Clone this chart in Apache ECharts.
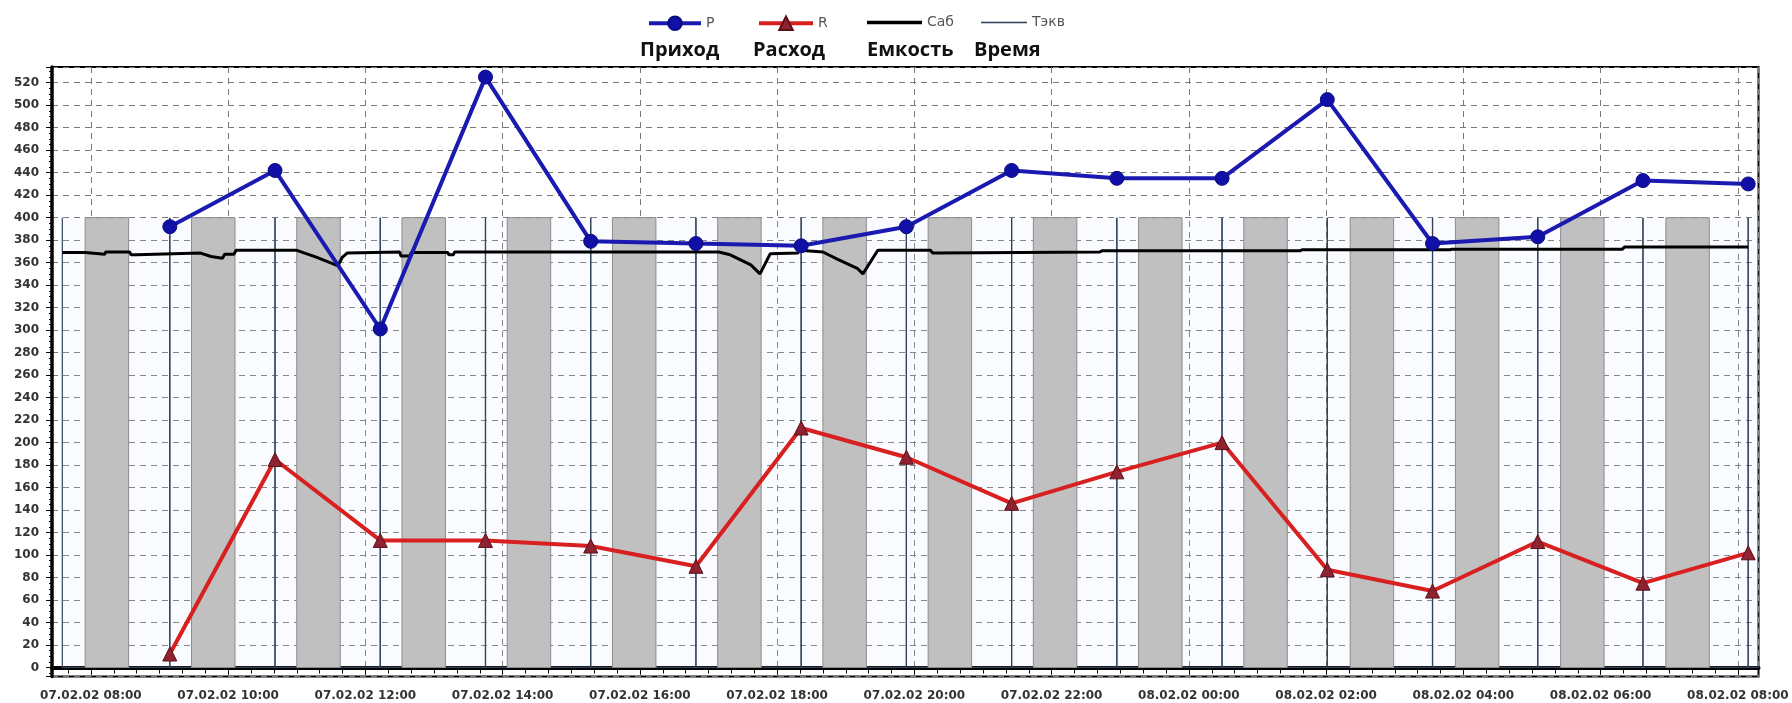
<!DOCTYPE html>
<html>
<head>
<meta charset="utf-8">
<title>Приход / Расход</title>
<script src="https://cdn.jsdelivr.net/npm/echarts@6/dist/echarts.min.js"></script>
<style>
  html, body { margin: 0; padding: 0; background: #fff; }
  #chart { width: 1792px; height: 703px; }
</style>
</head>
<body>
<div id="chart"></div>
<script>
// моменты замеров: "день чч:мм" (07.02.02 / 08.02.02)
const pointTimes = ['07 09:09', '07 10:41', '07 12:13', '07 13:45', '07 15:17', '07 16:49', '07 18:21', '07 19:53',
  '07 21:25', '07 22:57', '08 00:29', '08 02:01', '08 03:33', '08 05:05', '08 06:37', '08 08:09'];
// P - приход, R - расход
const pValues = [392, 442, 301, 525, 379, 377, 375, 392, 442, 435, 435, 505, 377, 383, 433, 430];
const rValues = [12, 185, 113, 113, 108, 90, 213, 187, 146, 174, 200, 87, 68, 112, 75, 102];

// Тэкв - границы интервалов
const tekvTimes = ['07 07:35', '07 09:09', '07 10:41', '07 12:13', '07 13:45', '07 15:17', '07 16:49', '07 18:21',
  '07 19:53', '07 21:25', '07 22:57', '08 00:29', '08 02:01', '08 03:33', '08 05:05', '08 06:37', '08 08:09', '08 09:41'];
const tekvLevel = 400;

// серые столбцы (начало / конец)
const greyStart = ['07 07:55', '07 09:28', '07 11:00', '07 12:32', '07 14:04', '07 15:36', '07 17:08', '07 18:40',
  '07 20:12', '07 21:44', '07 23:16', '08 00:48', '08 02:21', '08 03:53', '08 05:25', '08 06:57'];
const greyEnd = ['07 08:33', '07 10:06', '07 11:38', '07 13:10', '07 14:42', '07 16:14', '07 17:46', '07 19:18',
  '07 20:50', '07 22:22', '07 23:54', '08 01:26', '08 02:59', '08 04:31', '08 06:03', '08 07:35'];
const greyLevel = 400;

// Саб - емкость
const sabTimes = ['07 07:35', '07 07:55', '07 07:56', '07 08:12', '07 08:13', '07 08:34', '07 08:35', '07 08:40',
  '07 08:41', '07 09:36', '07 09:45', '07 09:55', '07 09:57', '07 10:05', '07 10:07', '07 11:00', '07 11:17',
  '07 11:34', '07 11:36', '07 11:40', '07 11:44', '07 12:30', '07 12:31', '07 12:39', '07 12:40', '07 13:12',
  '07 13:13', '07 13:17', '07 13:18', '07 17:09', '07 17:19', '07 17:37', '07 17:45', '07 17:54', '07 18:18',
  '07 18:20', '07 18:40', '07 18:53', '07 19:10', '07 19:15', '07 19:28', '07 20:14', '07 20:16', '07 20:20',
  '07 20:21', '07 22:42', '07 22:44', '08 01:37', '08 01:39', '08 03:48', '08 03:50', '08 06:19', '08 06:21', '08 08:09'];
const sabValues = [369, 369, 367.5, 367.5, 369.5, 369.5, 367, 367,
  368.5, 368.5, 365.5, 364, 367.5, 367.5, 371, 371, 365,
  358, 357.5, 365, 368.5, 369.5, 366, 366, 369, 369,
  367, 367, 369.5, 369.5, 367, 358, 350, 368, 368.5,
  371, 369.5, 363, 355, 350, 371, 371, 368.5, 368.5,
  369.5, 369.5, 370.5, 370.5, 371.5, 371.5, 372, 372, 374, 374];

const axisStart = '07 07:26';
const axisEnd = '08 08:18';

// минуты от 07.02.02 00:00
function toMin(s) {
  const day = +s.slice(0, 2);
  return (day - 7) * 1440 + (+s.slice(3, 5)) * 60 + (+s.slice(6, 8));
}
function pad(n) {
  return (n < 10 ? '0' : '') + n;
}
function fmtTick(v) {
  if (v % 120 !== 0) return '';
  const d = Math.floor(v / 1440);
  const rest = v - d * 1440;
  return pad(7 + d) + '.02.02 ' + pad(Math.floor(rest / 60)) + ':' + pad(rest % 60);
}

const pData = pointTimes.map((t, i) => [toMin(t), pValues[i]]);
const rData = pointTimes.map((t, i) => [toMin(t), rValues[i]]);
const sabData = sabTimes.map((t, i) => [toMin(t), sabValues[i]]);
const tekvData = [];
for (let i = 0; i < tekvTimes.length - 1; i++) {
  tekvData.push([toMin(tekvTimes[i]), toMin(tekvTimes[i + 1]), tekvLevel]);
}
const greyData = greyStart.map((t, i) => [toMin(t), toMin(greyEnd[i]), greyLevel]);

const legendText = { fontSize: 14, color: '#555', fontFamily: 'DejaVu Sans' };
const axisFont = { fontSize: 12, fontWeight: 'bold', color: '#333', fontFamily: 'DejaVu Sans' };
const dashed = { color: '#7a7a7a', width: 1, type: [6, 5] };
const capFont = 'bold 20px "Open Sans"';

let myChart = echarts.init(document.getElementById('chart'));
myChart.setOption({
  animation: false,
  backgroundColor: '#fff',
  legend: [
    { data: ['P'], left: 647, top: 15.5, padding: 0, itemWidth: 52, itemHeight: 17, lineStyle: { width: 4 }, textStyle: legendText },
    { data: ['R'], left: 757, top: 15.5, padding: 0, itemWidth: 54, itemHeight: 17, lineStyle: { width: 4 }, textStyle: legendText },
    { data: [{ name: 'Саб', icon: 'rect' }], left: 867, top: 15.5, padding: 0, itemWidth: 55, itemHeight: 3.5, textStyle: legendText },
    { data: [{ name: 'Тэкв', icon: 'rect' }], left: 981, top: 15.5, padding: 0, itemWidth: 46, itemHeight: 1.3, textStyle: legendText }
  ],
  graphic: [
    { type: 'text', x: 640, y: 50, style: { text: 'Приход', font: capFont, fill: '#111', verticalAlign: 'middle' } },
    { type: 'text', x: 753, y: 50, style: { text: 'Расход', font: capFont, fill: '#111', verticalAlign: 'middle' } },
    { type: 'text', x: 867, y: 50, style: { text: 'Емкость', font: capFont, fill: '#111', verticalAlign: 'middle' } },
    { type: 'text', x: 974, y: 50, style: { text: 'Время', font: capFont, fill: '#111', verticalAlign: 'middle' } }
  ],
  grid: {
    left: 52,
    right: 33.5,
    top: 67,
    bottom: 26.5,
    show: true,
    borderColor: '#000',
    borderWidth: 2,
    backgroundColor: '#fff'
  },
  xAxis: {
    type: 'value',
    min: toMin(axisStart),
    max: toMin(axisEnd),
    splitNumber: 12,
    minInterval: 120,
    maxInterval: 120,
    axisLine: { show: true, lineStyle: { color: '#000', width: 4 } },
    axisTick: { show: true, length: 7, lineStyle: { color: '#000', width: 1 } },
    minorTick: { show: true, splitNumber: 6, length: 6, lineStyle: { color: '#000', width: 1 } },
    axisLabel: {
      ...axisFont,
      margin: 13,
      showMinLabel: false,
      showMaxLabel: false,
      formatter: fmtTick
    },
    splitLine: { show: true, lineStyle: dashed }
  },
  yAxis: {
    type: 'value',
    min: -8,
    max: 534,
    splitNumber: 27,
    minInterval: 20,
    maxInterval: 20,
    axisLine: { show: true, lineStyle: { color: '#000', width: 3.5 } },
    axisTick: { show: true, length: 6, lineStyle: { color: '#000', width: 1 } },
    minorTick: { show: true, splitNumber: 4, length: 3, lineStyle: { color: '#000', width: 1 } },
    axisLabel: {
      ...axisFont,
      margin: 13,
      showMinLabel: false,
      showMaxLabel: false,
      formatter: function (v) {
        return v % 20 === 0 && v >= 0 ? String(v) : '';
      }
    },
    splitLine: { show: true, lineStyle: dashed }
  },
  series: [
    {
      name: 'Тэкв',
      type: 'custom',
      clip: true,
      itemStyle: { color: '#2f4259' },
      encode: { x: [0, 1], y: 2 },
      data: tekvData,
      renderItem: function (params, api) {
        const a = api.coord([api.value(0), 0]);
        const b = api.coord([api.value(1), api.value(2)]);
        return {
          type: 'group',
          children: [
            {
              type: 'rect',
              shape: { x: a[0], y: b[1], width: b[0] - a[0], height: a[1] - b[1] },
              style: { fill: 'rgba(205,225,245,0.12)' }
            },
            {
              type: 'polyline',
              shape: { points: [[a[0], b[1]], [a[0], a[1]], [b[0], a[1]], [b[0], b[1]]] },
              style: { stroke: '#2f4259', lineWidth: 1.2, fill: null }
            }
          ]
        };
      }
    },
    {
      name: 'grey',
      type: 'custom',
      clip: true,
      encode: { x: [0, 1], y: 2 },
      data: greyData,
      renderItem: function (params, api) {
        const a = api.coord([api.value(0), 0]);
        const b = api.coord([api.value(1), api.value(2)]);
        return {
          type: 'rect',
          shape: { x: a[0], y: b[1], width: b[0] - a[0], height: a[1] - b[1] },
          style: { fill: '#c0c0c0', stroke: '#8c8c8c', lineWidth: 1 }
        };
      }
    },
    {
      name: 'Саб',
      type: 'line',
      symbol: 'none',
      data: sabData,
      lineStyle: { color: '#000', width: 3 },
      itemStyle: { color: '#000' }
    },
    {
      name: 'P',
      type: 'line',
      data: pData,
      symbol: 'circle',
      symbolSize: 14,
      lineStyle: { color: '#1a1ab0', width: 4 },
      itemStyle: { color: '#1010a6', borderColor: '#0a0a80', borderWidth: 1 }
    },
    {
      name: 'R',
      type: 'line',
      data: rData,
      symbol: 'triangle',
      symbolSize: 14,
      lineStyle: { color: '#d82020', width: 4 },
      itemStyle: { color: '#8e2230', borderColor: '#5a1018', borderWidth: 1 }
    }
  ]
});
</script>
</body>
</html>
